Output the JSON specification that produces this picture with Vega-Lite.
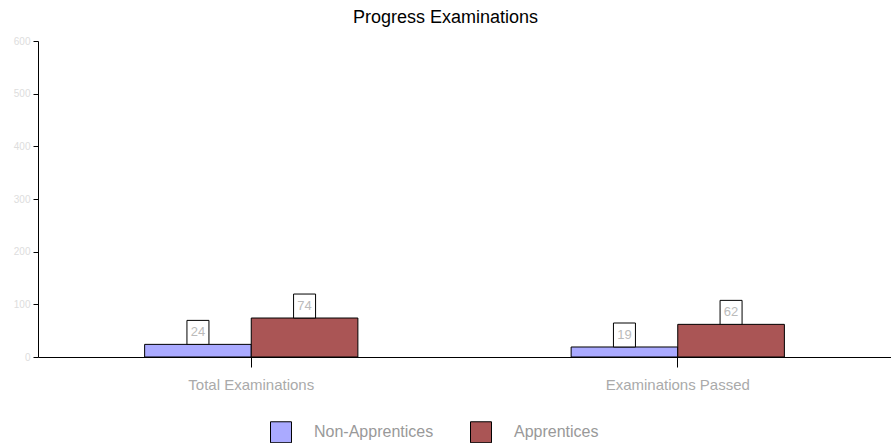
{
  "$schema": "https://vega.github.io/schema/vega-lite/v6.json",
  "width": 853,
  "height": 316,
  "autosize": "none",
  "padding": {"left": 38, "top": 41, "right": 0, "bottom": 86},
  "background": "white",
  "config": {"view": {"stroke": null}, "font": "Liberation Sans"},
  "title": {"text": "Progress Examinations", "fontSize": 18, "fontWeight": "normal", "color": "black", "dx": -19, "offset": 9},
  "data": {"values": [
    {"category": "Total Examinations", "group": "Non-Apprentices", "value": 24},
    {"category": "Total Examinations", "group": "Apprentices", "value": 74},
    {"category": "Examinations Passed", "group": "Non-Apprentices", "value": 19},
    {"category": "Examinations Passed", "group": "Apprentices", "value": 62}
  ]},
  "encoding": {
    "x": {"field": "category", "type": "nominal", "sort": ["Total Examinations", "Examinations Passed"],
      "scale": {"paddingInner": 0, "paddingOuter": 0},
      "axis": {"title": null, "labelAngle": 0, "labelFontSize": 15, "labelColor": "#aaaaaa", "tickSize": 10, "tickColor": "black", "domainColor": "black", "labelPadding": 10}},
    "xOffset": {"field": "group", "type": "nominal", "sort": ["Non-Apprentices", "Apprentices"], "scale": {"paddingInner": 0, "paddingOuter": 1}},
    "y": {"field": "value", "type": "quantitative", "scale": {"domain": [0, 600]},
      "axis": {"title": null, "values": [0, 100, 200, 300, 400, 500, 600], "grid": false, "tickSize": 5, "tickColor": "black", "domainColor": "black", "labelFontSize": 10, "labelColor": "#dddddd", "labelPadding": 3}}
  },
  "layer": [
    {"mark": {"type": "bar", "stroke": "black", "strokeWidth": 1},
      "encoding": {"color": {"field": "group", "type": "nominal", "sort": ["Non-Apprentices", "Apprentices"],
        "scale": {"domain": ["Non-Apprentices", "Apprentices"], "range": ["#aaaaff", "#aa5555"]},
        "legend": {"title": null, "orient": "none", "direction": "horizontal", "legendX": 232, "legendY": 380,
          "symbolType": "square", "symbolSize": 440, "symbolStrokeColor": "black", "symbolStrokeWidth": 1, "symbolOpacity": 1,
          "labelFontSize": 16, "labelColor": "#999999", "labelOffset": 22, "columnPadding": 34}}}},
    {"mark": {"type": "point", "shape": "M-1,0V-2.18H1V0Z", "size": 484, "filled": true, "fill": "white", "stroke": "black", "strokeWidth": 1, "opacity": 1}},
    {"mark": {"type": "text", "dy": -12, "baseline": "middle", "fontSize": 13, "color": "#bbbbbb"},
      "encoding": {"text": {"field": "value", "type": "quantitative"}}}
  ]
}
